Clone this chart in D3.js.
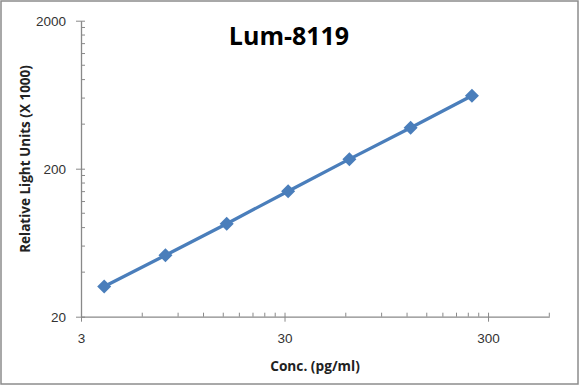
<!DOCTYPE html>
<html>
<head>
<meta charset="utf-8">
<script src="https://cdn.jsdelivr.net/npm/d3@7"></script>
<style>
  body { margin: 0; background: #fff; }
  svg { display: block; font-family: "Open Sans", "Liberation Sans", sans-serif; }
</style>
</head>
<body>
<div id="chart"></div>
<script>
const conc = [3.9, 7.8, 15.6, 31.25, 62.5, 125, 250];
const rlu = [32, 52, 85, 141, 232, 378, 622];
const xMajor = [3, 30, 300];
const yMajor = [20, 200, 2000];
const chartTitle = "Lum-8119";
const xTitle = "Conc. (pg/ml)";
const yTitle = "Relative Light Units (X 1000)";

const W = 580, H = 386;
const svg = d3.select("#chart").append("svg")
    .attr("width", W).attr("height", H);

// frame
svg.append("rect")
    .attr("x", 1).attr("y", 1).attr("width", W - 3).attr("height", H - 3)
    .attr("fill", "#fff").attr("stroke", "#8c8c8c").attr("stroke-width", 1.5);

const x = d3.scaleLog().domain([3, 600]).range([81, 549.3]);
const y = d3.scaleLog().domain([20, 2000]).range([316.7, 20.7]);

// minor ticks
const xMinor = [];
[3, 30, 300].forEach(b => d3.range(2, 10).forEach(k => { if (b * k <= 600) xMinor.push(b * k); }));
const yMinor = [];
[20, 200].forEach(b => d3.range(2, 10).forEach(k => yMinor.push(b * k)));

const axisColor = "#898989";

// axis_x
const gx = svg.append("g").attr("class", "axis_x")
    .attr("transform", `translate(0, ${y(20)})`)
    .call(d3.axisBottom(x).tickValues(xMajor).tickFormat(d3.format("d")).tickSizeOuter(0));
gx.select(".domain").attr("stroke", axisColor).attr("stroke-width", 1.3);
gx.selectAll(".tick line").attr("stroke", axisColor).attr("y1", -4).attr("y2", 5);
gx.selectAll(".tick text").attr("y", 17).attr("fill", "#333")
    .style("font-size", "13.5px");
gx.selectAll(".minor").data(xMinor).enter().append("line")
    .attr("class", "minor")
    .attr("x1", d => x(d)).attr("x2", d => x(d))
    .attr("y1", -4).attr("y2", 0)
    .attr("stroke", axisColor);

// axis_y
const gy = svg.append("g").attr("class", "axis_y")
    .attr("transform", `translate(${x(3)}, 0)`)
    .call(d3.axisLeft(y).tickValues(yMajor).tickFormat(d3.format("d")).tickSizeOuter(0));
gy.select(".domain").attr("stroke", axisColor).attr("stroke-width", 1.3);
gy.selectAll(".tick line").attr("stroke", axisColor).attr("x1", -5).attr("x2", 4);
gy.selectAll(".tick text").attr("x", -15).attr("fill", "#333")
    .style("font-size", "13.5px");
gy.selectAll(".minor").data(yMinor).enter().append("line")
    .attr("class", "minor")
    .attr("x1", 0).attr("x2", 4)
    .attr("y1", d => y(d)).attr("y2", d => y(d))
    .attr("stroke", axisColor);

// titles
svg.append("text")
    .attr("x", 289).attr("y", 45)
    .attr("text-anchor", "middle")
    .style("font-size", "25px").style("font-weight", "bold")
    .attr("fill", "#000")
    .text(chartTitle);

svg.append("text")
    .attr("x", 315).attr("y", 371)
    .attr("text-anchor", "middle")
    .style("font-size", "13.7px").style("font-weight", "bold")
    .attr("fill", "#222")
    .text(xTitle);

svg.append("text")
    .attr("transform", `translate(30, 159) rotate(-90)`)
    .attr("text-anchor", "middle")
    .style("font-size", "13.5px").style("font-weight", "bold")
    .attr("fill", "#222")
    .text(yTitle);

// series
const pts = conc.map((c, i) => [c, rlu[i]]);
const blue = "#4a7ebb";
svg.append("path")
    .datum(pts)
    .attr("fill", "none")
    .attr("stroke", blue)
    .attr("stroke-width", 3.3)
    .attr("stroke-linejoin", "round")
    .attr("d", d3.line().x(d => x(d[0])).y(d => y(d[1])));

svg.append("g").selectAll("path")
    .data(pts).enter().append("path")
    .attr("transform", d => `translate(${x(d[0])}, ${y(d[1])})`)
    .attr("d", d3.symbol(d3.symbolDiamond2, 125))
    .attr("fill", blue);
</script>
</body>
</html>
